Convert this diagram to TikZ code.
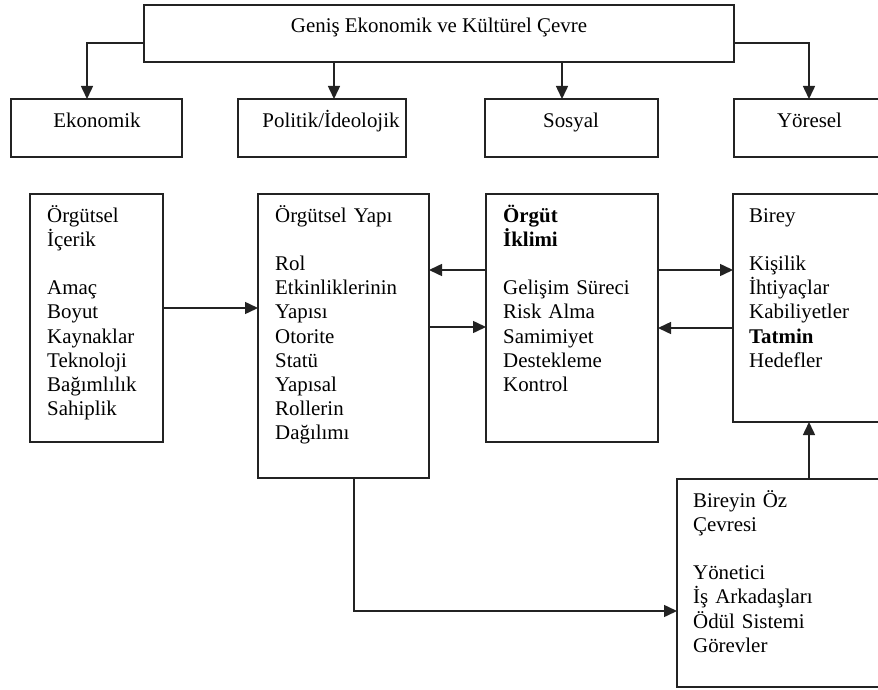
\documentclass[tikz,border=0pt]{standalone}
\usepackage{fontspec}
\setmainfont{Liberation Serif}
\usetikzlibrary{arrows.meta}
\definecolor{ln}{RGB}{35,35,35}
\tikzset{
  box/.style={draw=ln, line width=1.5pt, anchor=north west, outer sep=0pt, inner sep=0pt},
  arr/.style={draw=ln, line width=1.5pt, -{Triangle[length=13pt,width=12pt]}},
  lbl/.style={anchor=base, inner sep=0pt, font=\fontsize{20.9pt}{24.2pt}\selectfont},
  lst/.style={anchor=base west, inner sep=0pt, text width=200pt, align=left,
              font=\fontsize{20.9pt}{24.2pt}\selectfont}
}
\begin{document}
\begin{tikzpicture}[x=1pt,y=-1pt]
\useasboundingbox (0,0) rectangle (878,690);
% boxes
\node[box, minimum width=590pt, minimum height=57pt] (top) at (144,5) {};
\node[box, minimum width=171pt, minimum height=58pt] (eko) at (11,99) {};
\node[box, minimum width=168pt, minimum height=58pt] (pol) at (238,99) {};
\node[box, minimum width=173pt, minimum height=58pt] (sos) at (485,99) {};
\node[box, minimum width=152pt, minimum height=58pt] (yor) at (734,99) {};
\node[box, minimum width=133pt, minimum height=248pt] (icerik) at (30,194) {};
\node[box, minimum width=171pt, minimum height=284pt] (yapi) at (258,194) {};
\node[box, minimum width=172pt, minimum height=248pt] (iklim) at (486,194) {};
\node[box, minimum width=153pt, minimum height=228pt] (birey) at (733,194) {};
\node[box, minimum width=209pt, minimum height=208pt] (oz) at (677,479) {};
% single-line labels
\node[lbl] (ttop) at (439,33) {Geniş Ekonomik ve Kültürel Çevre};
\node[lbl] (teko) at (97,128) {Ekonomik};
\node[lbl] (tpol) at (331,128) {Politik/İdeolojik};
\node[lbl] (tsos) at (571,128) {Sosyal};
\node[lbl] (tyor) at (809.5,128) {Yöresel};
% list texts
\node[lst] (ticerik) at ([shift={(17pt,-28pt)}]icerik.north west)
  {Örgütsel\\İçerik\\[24.2pt]Amaç\\Boyut\\Kaynaklar\\Teknoloji\\Bağımlılık\\Sahiplik};
\node[lst] (tyapi) at ([shift={(17pt,-28pt)}]yapi.north west)
  {Örgütsel Yapı\\[24.2pt]Rol\\Etkinliklerinin\\Yapısı\\Otorite\\Statü\\Yapısal\\Rollerin\\Dağılımı};
\node[lst] (tiklim) at ([shift={(17pt,-28pt)}]iklim.north west)
  {\textbf{Örgüt}\\\textbf{İklimi}\\[24.2pt]Gelişim Süreci\\Risk Alma\\Samimiyet\\Destekleme\\Kontrol};
\node[lst] (tbirey) at ([shift={(16pt,-28pt)}]birey.north west)
  {Birey\\[24.2pt]Kişilik\\İhtiyaçlar\\Kabiliyetler\\\textbf{Tatmin}\\Hedefler};
\node[lst] (toz) at ([shift={(16pt,-28pt)}]oz.north west)
  {Bireyin Öz\\Çevresi\\[24.2pt]Yönetici\\İş Arkadaşları\\Ödül Sistemi\\Görevler};
% connectors
\draw[arr] ([yshift=-9.5pt]top.west) -| ([xshift=-9.5pt]eko.north);
\draw[arr] ([xshift=12pt]pol.north |- top.south) -- ([xshift=12pt]pol.north);
\draw[arr] ([xshift=-9.5pt]sos.north |- top.south) -- ([xshift=-9.5pt]sos.north);
\draw[arr] ([yshift=-9.5pt]top.east) -| ([xshift=-1pt]yor.north);
\draw[arr] ([yshift=10pt]icerik.east) -- ([yshift=10pt]icerik.east -| yapi.west);
\draw[arr] ([yshift=48pt]iklim.west) -- ([yshift=48pt]iklim.west -| yapi.east);
\draw[arr] ([yshift=-9pt]iklim.west -| yapi.east) -- ([yshift=-9pt]iklim.west);
\draw[arr] ([yshift=48pt]iklim.east) -- ([yshift=48pt]iklim.east -| birey.west);
\draw[arr] ([yshift=-10pt]iklim.east -| birey.west) -- ([yshift=-10pt]iklim.east);
\draw[arr] ([xshift=-0.5pt]birey.south |- oz.north) -- ([xshift=-0.5pt]birey.south);
\draw[arr] ([xshift=10.5pt]yapi.south) |- ([yshift=-28pt]oz.west);
\end{tikzpicture}
\end{document}
